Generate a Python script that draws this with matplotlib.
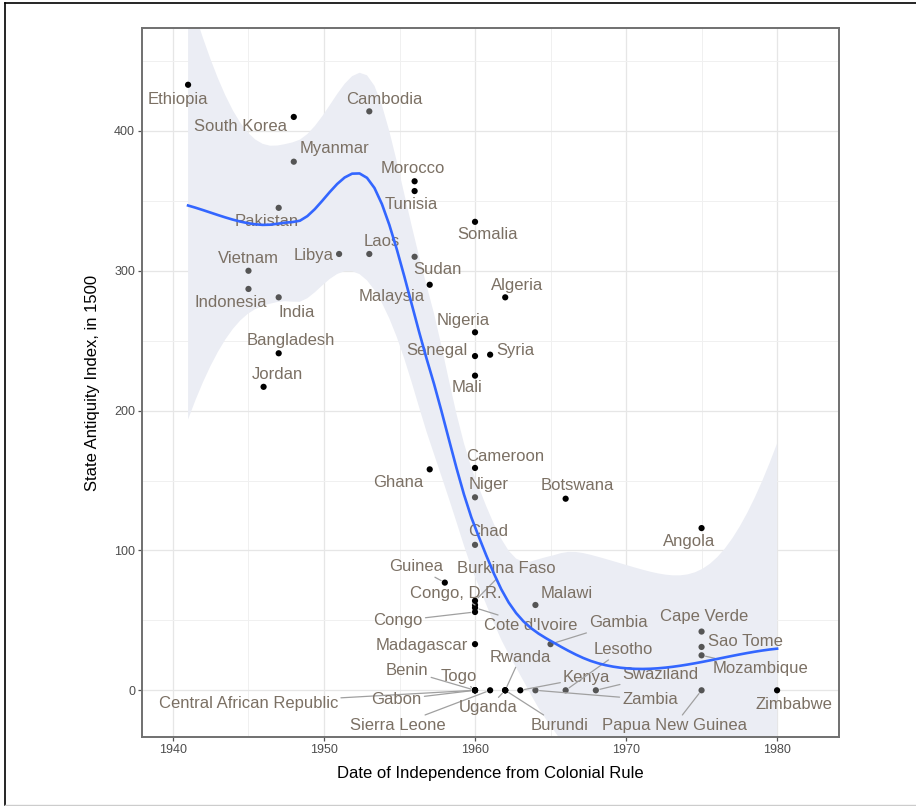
import numpy as np
import matplotlib
matplotlib.use('Agg')
import matplotlib.pyplot as plt
from matplotlib.lines import Line2D

plt.rcParams['font.family'] = ['Liberation Sans', 'DejaVu Sans']

countries = ['Ethiopia', 'South Korea', 'Cambodia', 'Myanmar', 'Morocco', 'Tunisia',
             'Pakistan', 'Somalia', 'Libya', 'Laos', 'Sudan', 'Vietnam', 'Indonesia',
             'India', 'Malaysia', 'Algeria', 'Nigeria', 'Senegal', 'Syria', 'Mali',
             'Bangladesh', 'Jordan', 'Ghana', 'Cameroon', 'Niger', 'Botswana', 'Chad',
             'Angola', 'Guinea', 'Burkina Faso', 'Congo, D.R.', "Cote d'Ivoire", 'Congo',
             'Madagascar', 'Malawi', 'Gambia', 'Cape Verde', 'Sao Tome', 'Mozambique',
             'Benin', 'Togo', 'Central African Republic', 'Gabon', 'Sierra Leone',
             'Uganda', 'Rwanda', 'Burundi', 'Kenya', 'Zambia', 'Lesotho', 'Swaziland',
             'Papua New Guinea', 'Zimbabwe']
independence = [1941, 1948, 1953, 1948, 1956, 1956,
                1947, 1960, 1951, 1953, 1956, 1945, 1945,
                1947, 1957, 1962, 1960, 1960, 1961, 1960,
                1947, 1946, 1957, 1960, 1960, 1966, 1960,
                1975, 1958, 1960, 1960, 1960, 1960,
                1960, 1964, 1965, 1975, 1975, 1975,
                1960, 1960, 1960, 1960, 1961,
                1962, 1962, 1962, 1963, 1964, 1966, 1968,
                1975, 1980]
antiquity = [433, 410, 414, 378, 364, 357,
             345, 335, 312, 312, 310, 300, 287,
             281, 290, 281, 256, 239, 240, 225,
             241, 217, 158, 159, 138, 137, 104,
             116, 77, 64, 61, 59, 56,
             33, 61, 33, 42, 31, 25,
             0, 0, 0, 0, 0,
             0, 0, 0, 0, 0, 0, 0,
             0, 0]
# 1 = black marker, 0 = grey marker
dark = [1, 1, 0, 0, 1, 1,
        0, 1, 0, 0, 0, 0, 0,
        0, 1, 1, 1, 1, 1, 1,
        1, 1, 1, 1, 0, 1, 0,
        1, 1, 1, 1, 1, 1,
        1, 0, 0, 0, 0, 0,
        1, 1, 1, 1, 1,
        1, 1, 1, 1, 0, 0, 0,
        0, 1]

x_ticks = [1940, 1950, 1960, 1970, 1980]
y_ticks = [0, 100, 200, 300, 400]

# where each country name sits (data units), repelled away from the points
label_pos = {
    'Ethiopia': (1940.3, 422.8), 'South Korea': (1944.5, 403.0),
    'Cambodia': (1954.0, 422.6), 'Myanmar': (1950.7, 387.1),
    'Morocco': (1955.9, 373.3), 'Tunisia': (1955.8, 347.5),
    'Pakistan': (1946.2, 335.3), 'Somalia': (1960.8, 326.0),
    'Libya': (1949.3, 311.2), 'Laos': (1953.8, 321.2),
    'Sudan': (1957.5, 301.0), 'Vietnam': (1945.0, 308.9),
    'Indonesia': (1943.8, 277.1), 'India': (1948.2, 270.2),
    'Malaysia': (1954.5, 281.4), 'Algeria': (1962.8, 289.5),
    'Nigeria': (1959.2, 264.7), 'Senegal': (1957.5, 243.3),
    'Syria': (1962.7, 243.3), 'Mali': (1959.5, 216.6),
    'Bangladesh': (1947.8, 250.4), 'Jordan': (1946.9, 226.1),
    'Ghana': (1954.9, 148.3), 'Cameroon': (1962.0, 167.4),
    'Niger': (1960.9, 147.4), 'Botswana': (1966.8, 146.7),
    'Chad': (1960.9, 113.3), 'Angola': (1974.2, 106.1),
    'Guinea': (1956.1, 88.2), 'Burkina Faso': (1962.1, 87.1),
    'Congo, D.R.': (1958.7, 69.4), "Cote d'Ivoire": (1963.7, 46.5),
    'Congo': (1954.9, 49.6), 'Madagascar': (1956.5, 32.2),
    'Malawi': (1966.1, 69.2), 'Gambia': (1969.5, 48.2),
    'Cape Verde': (1975.2, 52.9), 'Sao Tome': (1977.9, 34.6),
    'Mozambique': (1978.9, 15.5), 'Benin': (1955.5, 14.3),
    'Togo': (1958.9, 10.0), 'Central African Republic': (1945.0, -9.1),
    'Gabon': (1954.8, -6.7), 'Sierra Leone': (1954.9, -25.0),
    'Uganda': (1960.9, -12.4), 'Rwanda': (1963.0, 23.8),
    'Burundi': (1965.6, -25.0), 'Kenya': (1967.4, 9.1),
    'Zambia': (1971.6, -6.7), 'Lesotho': (1969.8, 29.1),
    'Swaziland': (1972.3, 11.2), 'Papua New Guinea': (1973.2, -25.0),
    'Zimbabwe': (1981.1, -10.2),
}
with_segment = {'Guinea', 'Burkina Faso', 'Congo, D.R.', 'Congo', "Cote d'Ivoire",
                'Gambia', 'Lesotho', 'Rwanda', 'Kenya', 'Swaziland', 'Mozambique',
                'Benin', 'Togo', 'Central African Republic', 'Gabon', 'Sierra Leone',
                'Uganda', 'Burundi', 'Zambia', 'Papua New Guinea'}


def t_quantile(df, z=1.959964):
    # Cornish-Fisher expansion of the Student t quantile
    g1 = (z**3 + z) / 4
    g2 = (5 * z**5 + 16 * z**3 + 3 * z) / 96
    g3 = (3 * z**7 + 19 * z**5 + 17 * z**3 - 15 * z) / 384
    return z + g1 / df + g2 / df**2 + g3 / df**3


def kd_vertices(x, fc):
    # 1-d version of the loess kd tree: split cells at the median until small
    xs = np.sort(x)
    mu = 0.005 * (xs[-1] - xs[0])
    verts = [xs[0] - mu, xs[-1] + mu]
    cells = [(0, len(xs) - 1, verts[0], verts[1])]
    while cells:
        l, u, vlo, vhi = cells.pop()
        if u - l + 1 <= fc:
            continue
        m = (l + u) // 2
        off = 0
        while l <= m + off < u:
            if xs[m + off] == xs[m + off + 1]:
                off = -off
                if off >= 0:
                    off += 1
            else:
                m += off
                break
        cut = xs[m]
        if cut == vlo or cut == vhi:
            continue
        verts.append(cut)
        cells.append((l, m, vlo, cut))
        cells.append((m + 1, u, cut, vhi))
    return np.sort(verts)


def loess(x, y, grid, span=0.75, cell=0.2):
    n = len(x)
    q = int(np.floor(n * span))

    def local_rows(x0):
        d = np.abs(x - x0)
        h = np.sort(d)[q - 1]
        w = np.clip(1 - (d / h) ** 3, 0, None) ** 3
        X = np.column_stack([np.ones(n), x - x0, (x - x0) ** 2])
        XtW = X.T * w
        B = np.linalg.solve(XtW @ X, XtW)
        return B[0], B[1]

    verts = kd_vertices(x, int(np.floor(n * span * cell)))
    vals, slopes = zip(*[local_rows(v) for v in verts])
    vals, slopes = np.array(vals), np.array(slopes)

    def operator(pts):
        rows = []
        for p in pts:
            j = int(np.clip(np.searchsorted(verts, p, side='right') - 1, 0, len(verts) - 2))
            h = verts[j + 1] - verts[j]
            t = (p - verts[j]) / h
            rows.append((2 * t**3 - 3 * t**2 + 1) * vals[j]
                        + (t**3 - 2 * t**2 + t) * h * slopes[j]
                        + (-2 * t**3 + 3 * t**2) * vals[j + 1]
                        + (t**3 - t**2) * h * slopes[j + 1])
        return np.array(rows)

    L = operator(x)
    G = operator(grid)
    R = np.eye(n) - L
    res = R @ y
    RtR = R.T @ R
    d1 = np.trace(RtR)
    d2 = np.trace(RtR @ RtR)
    sigma = np.sqrt(res @ res / d1)
    fit = G @ y
    se = sigma * np.sqrt((G ** 2).sum(axis=1))
    tq = t_quantile(d1 ** 2 / d2)
    return fit, fit - tq * se, fit + tq * se


x = np.array(independence, dtype=float)
y = np.array(antiquity, dtype=float)
grid = np.linspace(x.min(), x.max(), 80)
fit, lower, upper = loess(x, y, grid)

fig = plt.figure(figsize=(9.16, 8.06), dpi=100)
ax = fig.add_axes([142 / 916, 1 - 737 / 806, 697 / 916, 709 / 806])

ax.fill_between(grid, lower, upper, color='#ebedf4', lw=0, zorder=1)

seg_kw = dict(arrowstyle='-', color='#a0a0a0', lw=0.9, shrinkA=0, shrinkB=3)
for name, xi, yi in zip(countries, independence, antiquity):
    lx, ly = label_pos[name]
    if name in with_segment:
        ax.annotate(name, xy=(xi, yi), xytext=(lx, ly), ha='center', va='center',
                    fontsize=12, color='#7b7064', zorder=4,
                    arrowprops=seg_kw)
    else:
        ax.text(lx, ly, name, ha='center', va='center', fontsize=12,
                color='#7b7064', zorder=4)

colors = ['#000000' if d else '#555555' for d in dark]
ax.scatter(independence, antiquity, s=20, c=colors, lw=0, zorder=3)

ax.plot(grid, fit, color='#3366ff', lw=1.9, zorder=5)

ax.set_xlim(1937.95, 1984.1)
ax.set_ylim(-33.4, 473.6)
ax.set_xticks(x_ticks)
ax.set_yticks(y_ticks)
ax.set_xticks(np.arange(1945, 1985, 10), minor=True)
ax.set_yticks(np.arange(50, 500, 100), minor=True)
ax.grid(True, which='major', color='#e6e6e6', lw=0.9, zorder=0)
ax.grid(True, which='minor', color='#f0f0f0', lw=0.7, zorder=0)
ax.set_axisbelow(True)
ax.tick_params(which='major', length=3, width=0.9, color='#555555',
               labelsize=9, labelcolor='#4d4d4d', pad=2)
ax.tick_params(which='minor', length=0)
for s in ax.spines.values():
    s.set_color('#707070')
    s.set_linewidth(1.4)

ax.set_xlabel('Date of Independence from Colonial Rule', fontsize=12, labelpad=7)
ax.set_ylabel('State Antiquity Index, in 1500', fontsize=12, labelpad=10)

# thin frame around the image
fig.add_artist(Line2D([5 / 916, 1], [1 - 2.5 / 806] * 2, color='black', lw=1.2))
fig.add_artist(Line2D([5 / 916] * 2, [1 - 2.5 / 806, 1 - 805 / 806], color='black', lw=1.2))
fig.add_artist(Line2D([5 / 916, 1], [1 - 805 / 806] * 2, color='#cccccc', lw=1.0))

fig.savefig('out.png', dpi=100)
